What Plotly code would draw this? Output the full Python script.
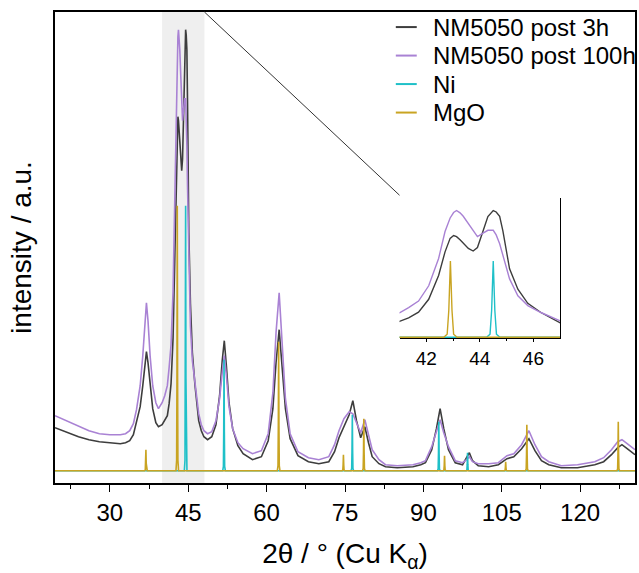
import plotly.graph_objects as go

# ---------------- data ----------------
two_theta = [19.5, 22, 24, 26, 28, 30, 32, 33, 33.8, 34.5, 35.1, 35.8, 36.3, 36.7, 37.0, 37.3, 37.7,
             38.2, 38.8, 39.3, 40.0, 40.5, 41.0, 41.34, 41.71, 42.09, 42.46, 42.70, 42.89, 43.02,
             43.13, 43.26, 43.38, 43.57, 43.75, 43.91, 44.12, 44.30, 44.50, 44.61, 44.74, 44.86,
             45.11, 45.42, 45.79, 46.28, 47.0, 47.5, 48.0, 48.7, 49.5, 50.3, 51.0, 51.5, 51.9, 52.3,
             52.8, 53.5, 54.5, 55.5, 57.3, 59.0, 60.3, 61.2, 61.8, 62.4, 63.0, 63.6, 64.5, 66, 68,
             70, 71.9, 73.0, 73.85, 74.8, 75.8, 76.5, 77.2, 78.0, 78.8, 79.5, 80.2, 81.5, 82.75, 85,
             88, 89.5, 90.4, 91.6, 92.5, 93.2, 93.9, 94.8, 96.1, 97.5, 98.3, 98.8, 99.4, 100.5,
             102.5, 104.35, 106.0, 107.3, 108.8, 110.2, 111.35, 112.6, 114, 116.4, 119.5, 122.8,
             124.5, 126.0, 127.2, 128.0, 129.0, 130.5]

post_3h = [43, 38, 34, 31, 29, 28, 27, 28, 30, 36, 48, 64, 85, 108, 119, 108, 85,
           62, 48, 44, 46, 50, 55, 67, 87, 132, 215, 297, 344, 354,
           350, 339, 328, 309, 300, 312, 370, 420, 441, 436, 421, 370,
           238, 167, 118, 86, 50, 40, 34, 31, 34, 46, 75, 110, 130, 105,
           68, 42, 25, 17, 11, 14, 30, 62, 108, 141, 105, 62, 32, 15, 9,
           7, 9, 19, 33, 44, 56, 70, 50, 33, 44, 28, 14, 7, 4, 3,
           4, 6, 8, 21, 42, 62, 42, 21, 8, 6, 14, 18, 10, 5,
           4, 6, 12, 14, 22, 32, 20, 10, 6, 3, 3, 6,
           9, 16, 23, 26, 22, 16]

post_100h = [55, 49, 44, 40, 37, 36, 36, 37, 40, 47, 61, 85, 115, 150, 168, 150, 115,
             85, 68, 62, 68, 75, 85, 103, 126, 179, 274, 368, 415, 434,
             441, 433, 421, 395, 370, 350, 362, 372, 372, 356, 325, 285,
             203, 144, 110, 86, 57, 46, 40, 37, 39, 50, 72, 98, 115, 95,
             64, 42, 28, 22, 17, 20, 37, 78, 138, 178, 130, 72, 37, 19, 13,
             11, 14, 26, 40, 52, 59, 57, 48, 38, 51, 36, 21, 11, 6, 5,
             6, 8, 10, 24, 38, 51, 38, 24, 10, 8, 11, 14, 9, 7,
             7, 8, 15, 17, 26, 40, 26, 14, 9, 5, 6, 9,
             13, 21, 29, 31, 27, 21]

ni_pos = [44.5, 51.85, 76.4, 92.95, 98.45]
ni_int = [265, 111, 56, 49, 18]

mgo_pos = [36.9, 42.9, 62.3, 74.7, 78.6, 94.05, 105.75, 109.8, 127.3]
mgo_int = [21, 265, 129, 16, 52, 15, 9, 46, 49]

series_names = ["NM5050 post 3h", "NM5050 post 100h", "Ni", "MgO"]

x_range = [19.5, 130.5]
inset_range = [41, 47]
zoom_band = [40, 48.1]
x_ticks = [30, 45, 60, 75, 90, 105, 120]
inset_ticks = [42, 44, 46]

# ---------------- styles ----------------
C3H = "#3d3d3d"
C100H = "#a982d4"
CNI = "#1fc0c8"
CMGO = "#c9a422"
colors = [C3H, C100H, CNI, CMGO]
FONT = "Liberation Sans, Arial, sans-serif"

# narrow peak profile used for each reference reflection (style only)
prof_dx = [-0.25, -0.12, -0.06, 0.0, 0.06, 0.12, 0.25]
prof_rel = [0.0, 0.04, 0.35, 1.0, 0.35, 0.04, 0.0]


def stick_trace(pos, inten):
    xs, ys = [x_range[0]], [0]
    for p, h in sorted(zip(pos, inten)):
        for dx, r in zip(prof_dx, prof_rel):
            xs.append(p + dx)
            ys.append(h * r)
    xs.append(x_range[1])
    ys.append(0)
    return xs, ys


ni_x, ni_y = stick_trace(ni_pos, ni_int)
mgo_x, mgo_y = stick_trace(mgo_pos, mgo_int)

fig = go.Figure()
series = [
    (two_theta, post_3h),
    (two_theta, post_100h),
    (ni_x, ni_y),
    (mgo_x, mgo_y),
]
for (xs, ys), name, col in zip(series, series_names, colors):
    fig.add_trace(go.Scatter(x=xs, y=ys, mode="lines", name=name, showlegend=False,
                             line=dict(color=col, width=1.6), xaxis="x", yaxis="y"))
for (xs, ys), name, col in zip(series, series_names, colors):
    fig.add_trace(go.Scatter(x=xs, y=ys, mode="lines", name=name, showlegend=False,
                             line=dict(color=col, width=1.4), xaxis="x2", yaxis="y2"))

ins_dom_x = [0.594, 0.871]
ins_dom_y = [0.308, 0.606]

fig.update_layout(
    width=639, height=573,
    margin=dict(l=55, r=2, t=12, b=90),
    paper_bgcolor="white", plot_bgcolor="white",
    font=dict(family=FONT, size=24, color="black"),
    showlegend=False,
    xaxis=dict(range=x_range, domain=[0, 1], tickvals=x_ticks, ticks="outside", ticklen=7,
               tickwidth=1.3, tickcolor="black", showline=True, linecolor="black", linewidth=1.5,
               mirror=True, showgrid=False, zeroline=False, tickfont=dict(size=24),
               minor=dict(tickvals=[22.5, 37.5, 52.5, 67.5, 82.5, 97.5, 112.5, 127.5],
                          ticks="outside", ticklen=4, tickcolor="black", tickwidth=1.3),
               title=dict(text="2θ / ° (Cu K<sub>α</sub>)", standoff=22, font=dict(size=28))),
    yaxis=dict(range=[-12.3, 458.7], showticklabels=False, ticks="", showline=True,
               linecolor="black", linewidth=1.5, mirror=True, showgrid=False, zeroline=False),
    xaxis2=dict(domain=ins_dom_x, anchor="y2", range=inset_range, tickvals=inset_ticks,
                ticks="outside", ticklen=3, tickcolor="black", showline=True, linecolor="black",
                linewidth=1, showgrid=False, zeroline=False, tickfont=dict(size=19),
                minor=dict(tickvals=[43, 45], ticks="outside", ticklen=2, tickcolor="black")),
    yaxis2=dict(domain=ins_dom_y, anchor="x2", range=[-2.5, 486], side="right",
                showticklabels=False, ticks="", showline=True, linecolor="black", linewidth=1,
                showgrid=False, zeroline=False),
)

# y axis title
fig.add_annotation(text="intensity / a.u.", xref="paper", yref="paper", x=-0.058, y=0.5,
                   textangle=-90, showarrow=False, xanchor="center", yanchor="middle",
                   font=dict(size=28, color="black"))

# zoomed band
fig.add_shape(type="rect", xref="x", yref="paper", x0=zoom_band[0], x1=zoom_band[1], y0=0, y1=1,
              fillcolor="#efefef", line=dict(width=0), layer="below")
# connector from the band to the inset
band_paper_x = (zoom_band[1] - x_range[0]) / (x_range[1] - x_range[0])
fig.add_shape(type="line", xref="paper", yref="paper", x0=band_paper_x, y0=1,
              x1=ins_dom_x[0], y1=ins_dom_y[1] + 0.005, line=dict(color="#333333", width=1))

# legend (drawn as line samples + text)
leg_x0, leg_x1, leg_tx = 0.5876, 0.6237, 0.6478
leg_top, leg_step = 0.968, 0.0605
for i, (name, col) in enumerate(zip(series_names, colors)):
    yy = leg_top - i * leg_step
    fig.add_shape(type="line", xref="paper", yref="paper", x0=leg_x0, x1=leg_x1, y0=yy, y1=yy,
                  line=dict(color=col, width=2))
    fig.add_annotation(text=name, xref="paper", yref="paper", x=leg_tx, y=yy, xanchor="left",
                       yanchor="middle", showarrow=False, font=dict(size=24, color="black"))

fig.write_html("out.html")
